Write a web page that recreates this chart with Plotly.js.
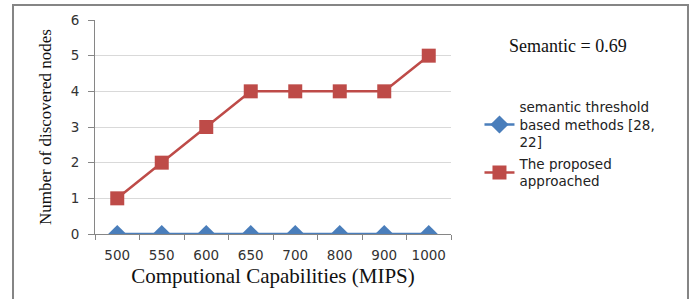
<!DOCTYPE html>
<html>
<head>
<meta charset="utf-8">
<script src="https://cdn.plot.ly/plotly-3.0.1.min.js"></script>
<style>
  html, body { margin: 0; padding: 0; background: #fff; }
  #chart { width: 693px; height: 299px; }
</style>
</head>
<body>
<div id="chart"></div>
<script>
const categories = ['500', '550', '600', '650', '700', '800', '900', '1000'];
const semanticThreshold = [0, 0, 0, 0, 0, 0, 0, 0];
const proposedApproach = [1, 2, 3, 4, 4, 4, 4, 5];
const seriesNames = ['semantic threshold<br>based methods [28,<br>22]', 'The proposed<br>approached'];
const yTicks = [0, 1, 2, 3, 4, 5, 6];

// category boundaries for the tick marks of the overlay axis
const boundaries = categories.map((c, i) => i - 0.5).concat([categories.length - 0.5]);

const traces = [
  {
    x: categories, y: semanticThreshold, name: seriesNames[0], legendgroup: 'g1',
    type: 'scatter', mode: 'lines+markers',
    line: { color: '#4a7ebb', width: 2.5 },
    marker: { symbol: 'diamond', size: 14, color: '#4a7ebb' }
  },
  {
    x: categories, y: proposedApproach, name: seriesNames[1], legendgroup: 'g2',
    type: 'scatter', mode: 'lines+markers',
    line: { color: '#be4b48', width: 2.5 },
    marker: { symbol: 'square', size: 14, color: '#be4b48' }
  },
  {
    // empty helper trace so the tick-only overlay axes are drawn
    x: [], y: [], xaxis: 'x2', yaxis: 'y2', type: 'scatter', mode: 'markers',
    showlegend: false, hoverinfo: 'skip'
  }
];

const layout = {
  width: 693, height: 299,
  margin: { l: 95, r: 242, t: 20, b: 65 },
  paper_bgcolor: '#fff', plot_bgcolor: '#fff',
  showlegend: true,
  legend: {
    x: 1.08, y: 0.665, xanchor: 'left', yanchor: 'top',
    font: { family: 'DejaVu Sans', size: 13.5, color: '#222' },
    tracegroupgap: 1, bgcolor: 'rgba(0,0,0,0)'
  },
  xaxis: {
    type: 'category', range: [-0.5, 7.5], tickangle: 0,
    showgrid: false, showline: true, linecolor: '#868686', linewidth: 1,
    ticks: '', ticklabelstandoff: 9,
    tickfont: { family: 'DejaVu Sans', size: 13.5, color: '#333' },
    title: { text: 'Computional Capabilities (MIPS)', standoff: 6,
             font: { family: 'Liberation Serif', size: 21, color: '#111' } }
  },
  xaxis2: {
    overlaying: 'x', type: 'linear', range: [-0.5, 7.5], side: 'bottom',
    tickvals: boundaries, showticklabels: false, showgrid: false, zeroline: false,
    showline: false, ticks: 'outside', ticklen: 5, tickcolor: '#868686'
  },
  yaxis: {
    range: [0, 6], tickvals: yTicks, zeroline: false,
    showgrid: true, gridcolor: '#d9d9d9', gridwidth: 1,
    showline: true, linecolor: '#868686', linewidth: 1,
    ticks: '', ticklabelstandoff: 12,
    tickfont: { family: 'DejaVu Sans', size: 13.5, color: '#333' },
    title: { text: 'Number of discovered nodes', standoff: 14,
             font: { family: 'Liberation Serif', size: 17, color: '#111' } }
  },
  yaxis2: {
    overlaying: 'y', type: 'linear', range: [0, 6], tickvals: yTicks, side: 'left',
    showticklabels: false, showgrid: false, zeroline: false, showline: false,
    ticks: 'outside', ticklen: 6, tickcolor: '#868686'
  },
  annotations: [{
    text: 'Semantic = 0.69', xref: 'paper', yref: 'paper',
    x: 1.329, y: 0.879, xanchor: 'center', yanchor: 'middle', showarrow: false,
    font: { family: 'Liberation Serif', size: 18, color: '#111' }
  }],
  shapes: [{
    type: 'rect', xref: 'paper', yref: 'paper',
    x0: -0.2303, x1: 1.6657, y0: -0.4, y1: 1.0701,
    line: { color: '#858585', width: 2 }, fillcolor: 'rgba(0,0,0,0)'
  }]
};

Plotly.newPlot('chart', traces, layout, { displayModeBar: false, staticPlot: true });
</script>
</body>
</html>
